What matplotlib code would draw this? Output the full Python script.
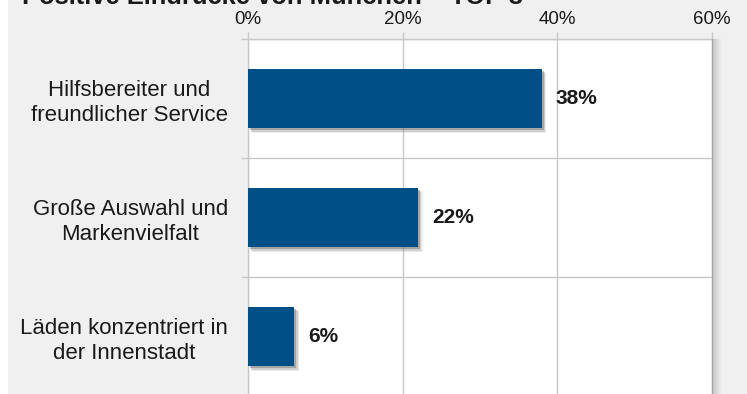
import matplotlib
matplotlib.use("Agg")
import matplotlib.pyplot as plt
import matplotlib.patheffects as pe
from matplotlib.patches import Rectangle
from matplotlib.ticker import FuncFormatter

plt.rcParams['font.family'] = ['Liberation Sans', 'DejaVu Sans']

title = "Positive Eindrücke von München – TOP 3"
categories = ["Hilfsbereiter und\nfreundlicher Service",
              "Große Auswahl und\nMarkenvielfalt",
              "Läden konzentriert in\nder Innenstadt"]
values = [38, 22, 6]
x_ticks = [0, 20, 40, 60]

W, H = 747, 394
fig = plt.figure(figsize=(W / 100, H / 100), dpi=100, facecolor="#f0f0f0")

# white strip on the far left edge
fig.patches.append(Rectangle((0, 0), 8 / W, 1, transform=fig.transFigure,
                             facecolor="white", edgecolor="none", zorder=0))

left, right, top, bottom = 248 / W, 712 / W, 1 - 39 / H, -2 / H
ax = fig.add_axes([left, bottom, right - left, top - bottom])
ax.set_facecolor("white")

# soft shadow along the right edge of the plot area
for i in range(9):
    a = 0.30 * (1 - i / 9)
    fig.patches.append(Rectangle((right + i / W, bottom), 1 / W, top - bottom,
                                 transform=fig.transFigure, facecolor="#5a5a5a",
                                 edgecolor="none", alpha=a, zorder=0.5))

y = list(range(len(categories)))
shadow = [pe.SimplePatchShadow(offset=(3.2, -3.2), shadow_rgbFace="#9a9a9a", alpha=0.18),
          pe.SimplePatchShadow(offset=(2.4, -2.4), shadow_rgbFace="#7a7a7a", alpha=0.25),
          pe.SimplePatchShadow(offset=(1.5, -1.5), shadow_rgbFace="#555555", alpha=0.35),
          pe.Normal()]
bars = ax.barh(y, values, height=0.5, color="#004f86", zorder=3)
for b in bars:
    b.set_path_effects(shadow)

for yi, v in zip(y, values):
    ax.annotate(f"{v}%", xy=(v, yi), xytext=(10, 0), textcoords="offset points",
                va="center", ha="left", fontsize=15, fontweight="bold", color="#1a1a1a")

ax.set_xlim(0, 60)
ax.set_ylim(2.5, -0.5)
ax.set_xticks(x_ticks)
ax.xaxis.set_major_formatter(FuncFormatter(lambda v, p: f"{v:.0f}%"))
ax.xaxis.tick_top()
ax.tick_params(axis="x", which="major", length=5, width=1, color="#c8c8c8",
               labelsize=13.5, labelcolor="#1a1a1a", pad=3)

# band boundaries as horizontal grid
ax.set_yticks([-0.5, 0.5, 1.5, 2.5], minor=False)
ax.set_yticklabels([])
ax.tick_params(axis="y", which="major", length=5, width=1, color="#c8c8c8")
ax.set_yticks(y, minor=True)
ax.set_yticklabels(categories, minor=True, fontsize=16, color="#1a1a1a",
                   multialignment="center", linespacing=1.22)
ax.tick_params(axis="y", which="minor", length=0, pad=14.5)

ax.grid(True, which="major", color="#c8c8c8", linewidth=1, zorder=0)
ax.set_axisbelow(True)
for s in ["top", "left", "right", "bottom"]:
    ax.spines[s].set_color("#c8c8c8")
    ax.spines[s].set_linewidth(1)

fig.text(22 / W, 1 - 4 / H, title, ha="left", va="baseline",
         fontsize=18.4, fontweight="bold", color="#1a1a1a")

fig.savefig("out.png", dpi=100, facecolor=fig.get_facecolor())
